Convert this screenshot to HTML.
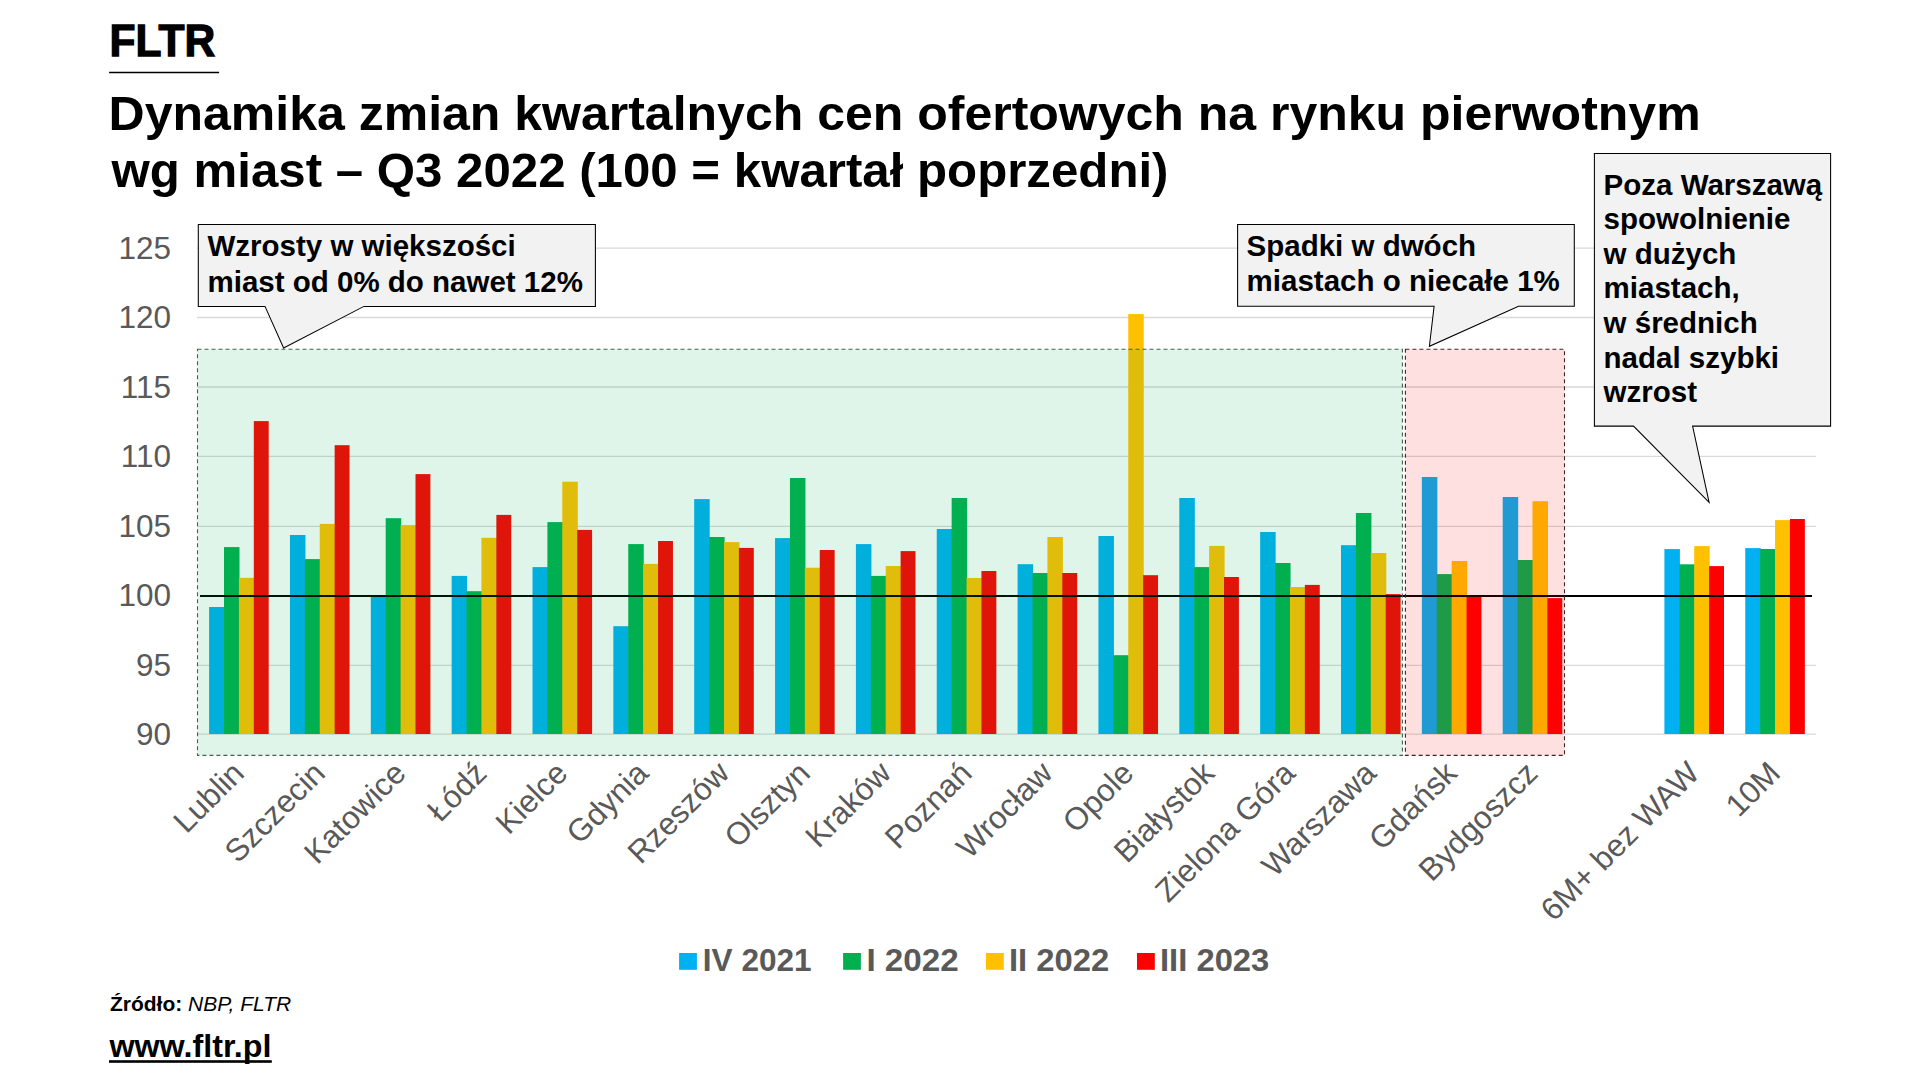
<!DOCTYPE html>
<html><head><meta charset="utf-8">
<style>
html,body{margin:0;padding:0;background:#fff;}
body{width:1920px;height:1080px;overflow:hidden;position:relative;font-family:"Liberation Sans",sans-serif;}
svg{position:absolute;left:0;top:0;}
.ax{font-family:"Liberation Sans",sans-serif;font-size:31.5px;fill:#595959;}
.co{font-family:"Liberation Sans",sans-serif;font-weight:bold;fill:#000;}
.lg{font-family:"Liberation Sans",sans-serif;font-weight:bold;font-size:31.4px;fill:#595959;}
.tt{font-family:"Liberation Sans",sans-serif;font-weight:bold;fill:#000;}
</style></head><body>
<svg width="1920" height="1080" viewBox="0 0 1920 1080">
<text x="109.6" y="55.8" class="tt" style="font-size:45px" stroke="#000" stroke-width="1.3" textLength="105.5" lengthAdjust="spacingAndGlyphs">FLTR</text>
<line x1="109.1" y1="72.5" x2="219.1" y2="72.5" stroke="#000" stroke-width="1.4"/>
<text x="108.6" y="129.6" class="tt" style="font-size:49px" textLength="1592" lengthAdjust="spacingAndGlyphs">Dynamika zmian kwartalnych cen ofertowych na rynku pierwotnym</text>
<text x="111.5" y="186.8" class="tt" style="font-size:49px" textLength="1057" lengthAdjust="spacingAndGlyphs">wg miast – Q3 2022 (100 = kwartał poprzedni)</text>
<line x1="197" y1="248.1" x2="1816" y2="248.1" stroke="#d9d9d9" stroke-width="1.3"/>
<line x1="197" y1="317.5" x2="1816" y2="317.5" stroke="#d9d9d9" stroke-width="1.3"/>
<line x1="197" y1="387" x2="1816" y2="387" stroke="#d9d9d9" stroke-width="1.3"/>
<line x1="197" y1="456.4" x2="1816" y2="456.4" stroke="#d9d9d9" stroke-width="1.3"/>
<line x1="197" y1="526.3" x2="1816" y2="526.3" stroke="#d9d9d9" stroke-width="1.3"/>
<line x1="197" y1="665.3" x2="1816" y2="665.3" stroke="#d9d9d9" stroke-width="1.3"/>
<line x1="197" y1="734.2" x2="1816" y2="734.2" stroke="#d9d9d9" stroke-width="1.3"/>
<text x="171" y="258.7" text-anchor="end" class="ax">125</text>
<text x="171" y="328.1" text-anchor="end" class="ax">120</text>
<text x="171" y="397.6" text-anchor="end" class="ax">115</text>
<text x="171" y="467" text-anchor="end" class="ax">110</text>
<text x="171" y="536.9" text-anchor="end" class="ax">105</text>
<text x="171" y="606.2" text-anchor="end" class="ax">100</text>
<text x="171" y="675.9" text-anchor="end" class="ax">95</text>
<text x="171" y="744.8" text-anchor="end" class="ax">90</text>
<rect x="209.1" y="607" width="15.5" height="127" fill="#00B0F0"/>
<rect x="224" y="547.1" width="15.5" height="186.9" fill="#00B050"/>
<rect x="238.9" y="577.8" width="15.5" height="156.2" fill="#FFC000"/>
<rect x="253.8" y="421.1" width="14.9" height="312.9" fill="#FF0000"/>
<rect x="289.95" y="535" width="15.5" height="199" fill="#00B0F0"/>
<rect x="304.85" y="559.1" width="15.5" height="174.9" fill="#00B050"/>
<rect x="319.75" y="523.9" width="15.5" height="210.1" fill="#FFC000"/>
<rect x="334.65" y="445.2" width="14.9" height="288.8" fill="#FF0000"/>
<rect x="370.8" y="597" width="15.5" height="137" fill="#00B0F0"/>
<rect x="385.7" y="518.2" width="15.5" height="215.8" fill="#00B050"/>
<rect x="400.6" y="525.1" width="15.5" height="208.9" fill="#FFC000"/>
<rect x="415.5" y="474.1" width="14.9" height="259.9" fill="#FF0000"/>
<rect x="451.65" y="575.9" width="15.5" height="158.1" fill="#00B0F0"/>
<rect x="466.55" y="591.2" width="15.5" height="142.8" fill="#00B050"/>
<rect x="481.45" y="537.8" width="15.5" height="196.2" fill="#FFC000"/>
<rect x="496.35" y="514.9" width="14.9" height="219.1" fill="#FF0000"/>
<rect x="532.5" y="567.1" width="15.5" height="166.9" fill="#00B0F0"/>
<rect x="547.4" y="522.1" width="15.5" height="211.9" fill="#00B050"/>
<rect x="562.3" y="481.7" width="15.5" height="252.3" fill="#FFC000"/>
<rect x="577.2" y="529.9" width="14.9" height="204.1" fill="#FF0000"/>
<rect x="613.35" y="626.2" width="15.5" height="107.8" fill="#00B0F0"/>
<rect x="628.25" y="544.1" width="15.5" height="189.9" fill="#00B050"/>
<rect x="643.15" y="563.9" width="15.5" height="170.1" fill="#FFC000"/>
<rect x="658.05" y="541" width="14.9" height="193" fill="#FF0000"/>
<rect x="694.2" y="499.1" width="15.5" height="234.9" fill="#00B0F0"/>
<rect x="709.1" y="537" width="15.5" height="197" fill="#00B050"/>
<rect x="724" y="542.1" width="15.5" height="191.9" fill="#FFC000"/>
<rect x="738.9" y="547.9" width="14.9" height="186.1" fill="#FF0000"/>
<rect x="775.05" y="538.1" width="15.5" height="195.9" fill="#00B0F0"/>
<rect x="789.95" y="478" width="15.5" height="256" fill="#00B050"/>
<rect x="804.85" y="567.7" width="15.5" height="166.3" fill="#FFC000"/>
<rect x="819.75" y="550" width="14.9" height="184" fill="#FF0000"/>
<rect x="855.9" y="544.1" width="15.5" height="189.9" fill="#00B0F0"/>
<rect x="870.8" y="575.9" width="15.5" height="158.1" fill="#00B050"/>
<rect x="885.7" y="566" width="15.5" height="168" fill="#FFC000"/>
<rect x="900.6" y="551.1" width="14.9" height="182.9" fill="#FF0000"/>
<rect x="936.75" y="529" width="15.5" height="205" fill="#00B0F0"/>
<rect x="951.65" y="498" width="15.5" height="236" fill="#00B050"/>
<rect x="966.55" y="578" width="15.5" height="156" fill="#FFC000"/>
<rect x="981.45" y="571" width="14.9" height="163" fill="#FF0000"/>
<rect x="1017.6" y="564.2" width="15.5" height="169.8" fill="#00B0F0"/>
<rect x="1032.5" y="573" width="15.5" height="161" fill="#00B050"/>
<rect x="1047.4" y="537" width="15.5" height="197" fill="#FFC000"/>
<rect x="1062.3" y="573" width="14.9" height="161" fill="#FF0000"/>
<rect x="1098.45" y="536" width="15.5" height="198" fill="#00B0F0"/>
<rect x="1113.35" y="655.2" width="15.5" height="78.8" fill="#00B050"/>
<rect x="1128.25" y="314.1" width="15.5" height="419.9" fill="#FFC000"/>
<rect x="1143.15" y="575.2" width="14.9" height="158.8" fill="#FF0000"/>
<rect x="1179.3" y="498" width="15.5" height="236" fill="#00B0F0"/>
<rect x="1194.2" y="567.1" width="15.5" height="166.9" fill="#00B050"/>
<rect x="1209.1" y="545.9" width="15.5" height="188.1" fill="#FFC000"/>
<rect x="1224" y="577" width="14.9" height="157" fill="#FF0000"/>
<rect x="1260.15" y="532" width="15.5" height="202" fill="#00B0F0"/>
<rect x="1275.05" y="563" width="15.5" height="171" fill="#00B050"/>
<rect x="1289.95" y="587" width="15.5" height="147" fill="#FFC000"/>
<rect x="1304.85" y="584.9" width="14.9" height="149.1" fill="#FF0000"/>
<rect x="1341" y="545.2" width="15.5" height="188.8" fill="#00B0F0"/>
<rect x="1355.9" y="513" width="15.5" height="221" fill="#00B050"/>
<rect x="1370.8" y="553" width="15.5" height="181" fill="#FFC000"/>
<rect x="1385.7" y="594.1" width="14.9" height="139.9" fill="#FF0000"/>
<rect x="1421.85" y="477" width="15.5" height="257" fill="#00B0F0"/>
<rect x="1436.75" y="574.1" width="15.5" height="159.9" fill="#00B050"/>
<rect x="1451.65" y="561" width="15.5" height="173" fill="#FFC000"/>
<rect x="1466.55" y="597" width="14.9" height="137" fill="#FF0000"/>
<rect x="1502.7" y="497" width="15.5" height="237" fill="#00B0F0"/>
<rect x="1517.6" y="560" width="15.5" height="174" fill="#00B050"/>
<rect x="1532.5" y="501.2" width="15.5" height="232.8" fill="#FFC000"/>
<rect x="1547.4" y="598.1" width="14.9" height="135.9" fill="#FF0000"/>
<rect x="1664.4" y="549.1" width="15.5" height="184.9" fill="#00B0F0"/>
<rect x="1679.3" y="564.3" width="15.5" height="169.7" fill="#00B050"/>
<rect x="1694.2" y="546.1" width="15.5" height="187.9" fill="#FFC000"/>
<rect x="1709.1" y="566.1" width="14.9" height="167.9" fill="#FF0000"/>
<rect x="1745.25" y="548.1" width="15.5" height="185.9" fill="#00B0F0"/>
<rect x="1760.15" y="549" width="15.5" height="185" fill="#00B050"/>
<rect x="1775.05" y="520.1" width="15.5" height="213.9" fill="#FFC000"/>
<rect x="1789.95" y="519" width="14.9" height="215" fill="#FF0000"/>
<line x1="200" y1="596" x2="1812" y2="596" stroke="#000" stroke-width="2"/>
<rect x="197.5" y="349.3" width="1204.9" height="406.1" fill="#00B050" fill-opacity="0.12" stroke="#44614f" stroke-width="1.1" stroke-dasharray="4 3"/>
<rect x="1405.4" y="349.3" width="159.1" height="406.1" fill="#FF0000" fill-opacity="0.12" stroke="#4a2222" stroke-width="1.1" stroke-dasharray="4 3"/>
<text transform="translate(245.93,775) rotate(-45)" text-anchor="end" class="ax xl">Lublin</text>
<text transform="translate(326.78,775) rotate(-45)" text-anchor="end" class="ax xl">Szczecin</text>
<text transform="translate(407.62,775) rotate(-45)" text-anchor="end" class="ax xl">Katowice</text>
<text transform="translate(488.47,775) rotate(-45)" text-anchor="end" class="ax xl">Łódź</text>
<text transform="translate(569.32,775) rotate(-45)" text-anchor="end" class="ax xl">Kielce</text>
<text transform="translate(650.17,775) rotate(-45)" text-anchor="end" class="ax xl">Gdynia</text>
<text transform="translate(731.02,775) rotate(-45)" text-anchor="end" class="ax xl">Rzeszów</text>
<text transform="translate(811.87,775) rotate(-45)" text-anchor="end" class="ax xl">Olsztyn</text>
<text transform="translate(892.72,775) rotate(-45)" text-anchor="end" class="ax xl">Kraków</text>
<text transform="translate(973.57,775) rotate(-45)" text-anchor="end" class="ax xl">Poznań</text>
<text transform="translate(1054.42,775) rotate(-45)" text-anchor="end" class="ax xl">Wrocław</text>
<text transform="translate(1135.27,775) rotate(-45)" text-anchor="end" class="ax xl">Opole</text>
<text transform="translate(1216.12,775) rotate(-45)" text-anchor="end" class="ax xl">Białystok</text>
<text transform="translate(1296.97,775) rotate(-45)" text-anchor="end" class="ax xl">Zielona Góra</text>
<text transform="translate(1377.82,775) rotate(-45)" text-anchor="end" class="ax xl">Warszawa</text>
<text transform="translate(1458.67,775) rotate(-45)" text-anchor="end" class="ax xl">Gdańsk</text>
<text transform="translate(1539.52,775) rotate(-45)" text-anchor="end" class="ax xl">Bydgoszcz</text>
<text transform="translate(1701.22,775) rotate(-45)" text-anchor="end" class="ax xl">6M+ bez WAW</text>
<text transform="translate(1782.07,775) rotate(-45)" text-anchor="end" class="ax xl">10M</text>
<path d="M198.3,224.4 L595.4,224.4 L595.4,306.4 L363.9,306.4 L283.6,348 L265,306.4 L198.3,306.4 Z" fill="#f2f2f2" stroke="#000" stroke-width="1.05" stroke-linejoin="miter"/>
<text x="207.5" y="256.1" class="co" style="font-size:29.5px">Wzrosty w większości</text>
<text x="207.5" y="291.6" class="co" style="font-size:29.5px">miast od 0% do nawet 12%</text>
<path d="M1237.6,224.4 L1574.3,224.4 L1574.3,306.3 L1518.5,306.3 L1429.4,346.3 L1434.1,306.3 L1237.6,306.3 Z" fill="#f2f2f2" stroke="#000" stroke-width="1.05" stroke-linejoin="miter"/>
<text x="1246.6" y="256.3" class="co" style="font-size:29.5px">Spadki w dwóch</text>
<text x="1246.6" y="291" class="co" style="font-size:29.5px">miastach o niecałe 1%</text>
<path d="M1594.4,153.5 L1830.6,153.5 L1830.6,426.1 L1692.6,426.1 L1709.1,502.4 L1633.5,426.1 L1594.4,426.1 Z" fill="#f2f2f2" stroke="#000" stroke-width="1.05" stroke-linejoin="miter"/>
<text x="1603.6" y="194.7" class="co" style="font-size:29.5px">Poza Warszawą</text>
<text x="1603.6" y="229.3" class="co" style="font-size:29.5px">spowolnienie</text>
<text x="1603.6" y="263.8" class="co" style="font-size:29.5px">w dużych</text>
<text x="1603.6" y="298.4" class="co" style="font-size:29.5px">miastach,</text>
<text x="1603.6" y="333" class="co" style="font-size:29.5px">w średnich</text>
<text x="1603.6" y="367.6" class="co" style="font-size:29.5px">nadal szybki</text>
<text x="1603.6" y="402.2" class="co" style="font-size:29.5px">wzrost</text>
<rect x="679.1" y="953" width="17.8" height="16.8" fill="#00B0F0"/>
<text x="702.8" y="971.3" class="lg" textLength="108.8" lengthAdjust="spacingAndGlyphs">IV 2021</text>
<rect x="843.1" y="953" width="17.8" height="16.8" fill="#00B050"/>
<text x="866.4" y="971.3" class="lg" textLength="92.3" lengthAdjust="spacingAndGlyphs">I 2022</text>
<rect x="986" y="953" width="17.8" height="16.8" fill="#FFC000"/>
<text x="1009" y="971.3" class="lg" textLength="100.3" lengthAdjust="spacingAndGlyphs">II 2022</text>
<rect x="1137" y="953" width="17.8" height="16.8" fill="#FF0000"/>
<text x="1160" y="971.3" class="lg" textLength="109.3" lengthAdjust="spacingAndGlyphs">III 2023</text>
<text x="109.9" y="1010.7" class="tt" style="font-size:21px">Źródło: <tspan style="font-weight:normal;font-style:italic">NBP, FLTR</tspan></text>
<text x="109.4" y="1056.6" class="tt" style="font-size:31px" textLength="162" lengthAdjust="spacingAndGlyphs">www.fltr.pl</text>
<rect x="109" y="1060.2" width="162.8" height="2.6" fill="#000"/>
</svg>
</body></html>
